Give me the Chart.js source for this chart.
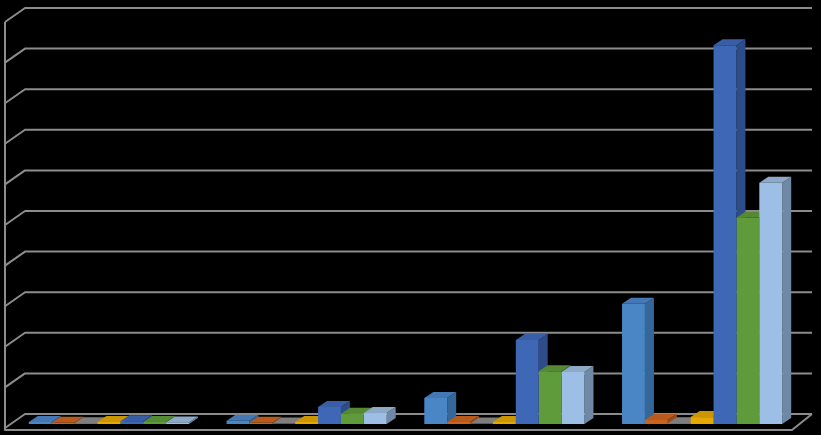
<!DOCTYPE html>
<html>
<head>
<meta charset="utf-8">
<script src="https://cdn.jsdelivr.net/npm/chart.js@4/dist/chart.umd.min.js"></script>
<style>
  html, body { margin: 0; padding: 0; background: #000; }
  #wrap { width: 821px; height: 435px; position: relative; }
</style>
</head>
<body>
<div id="wrap"><canvas id="chart"></canvas></div>
<script>
// chart data (no labels shown in the picture)
const categories = ["1", "2", "3", "4"];
const axis_max = 1000;
const axis_step = 100;

const series_1 = [5, 8, 64, 296];
const series_2 = [3, 3, 5, 10];
const series_3 = [2, 1, 1, 2];
const series_4 = [5, 5, 5, 17];
const series_5 = [7, 42, 207, 933];
const series_6 = [5, 25, 130, 508];
const series_7 = [4, 27, 128, 594];

// front / side / top colours for each series
const palette = [
  ["#4a86c6", "#35679a", "#4478b4"],
  ["#cc6420", "#9c4a16", "#b85a1c"],
  ["#8c8c8c", "#6a6a6a", "#7e7e7e"],
  ["#e6a800", "#b08000", "#cc9600"],
  ["#3e67b6", "#2c4d8a", "#3a5ea6"],
  ["#5f9b3a", "#46762a", "#548a34"],
  ["#9dbfe6", "#6f88a6", "#8ea8c8"],
];

// 3d look constants
const bar_dx = 9, bar_dy = 6;        // depth of a bar
const wall_dx = 12, wall_dy = 10;    // bar front plane -> back wall
const floor_dx = 20, floor_dy = 16;  // front edge -> back wall

const threeD = {
  id: "threeD",
  beforeDatasetsDraw(chart) {
    const ctx = chart.ctx;
    const y = chart.scales.y;
    const area = chart.chartArea;
    const back_left = area.left + wall_dx + 3;
    const front_left = back_left - floor_dx;
    const back_right = area.right + wall_dx - 1;
    ctx.save();
    ctx.strokeStyle = "#8c8c8c";
    ctx.lineWidth = 2;
    ctx.lineJoin = "round";
    // gridlines on the left and back walls
    let top_y = 0;
    for (let v = 0; v <= axis_max; v += axis_step) {
      const yb = y.getPixelForValue(v) - wall_dy;
      if (v === axis_max) top_y = yb;
      ctx.beginPath();
      ctx.moveTo(front_left, yb + floor_dy - 2);
      ctx.lineTo(back_left, yb);
      ctx.lineTo(back_right, yb);
      ctx.stroke();
    }
    // left wall edge and floor
    const yb0 = y.getPixelForValue(0) - wall_dy;
    ctx.beginPath();
    ctx.moveTo(front_left, top_y + floor_dy - 2);
    ctx.lineTo(front_left, yb0 + floor_dy);
    ctx.lineTo(back_right - floor_dx, yb0 + floor_dy);
    ctx.lineTo(back_right, yb0);
    ctx.stroke();

    // side and top faces, left to right so nearer bars cover farther ones
    const bars = [];
    chart.data.datasets.forEach((ds, di) => {
      chart.getDatasetMeta(di).data.forEach((el) => {
        bars.push({ el: el, di: di });
      });
    });
    bars.sort((a, b) => a.el.x - b.el.x);
    bars.forEach(({ el, di }) => {
      const left = el.x - el.width / 2;
      const right = el.x + el.width / 2;
      const top = el.y;
      const base = el.base;
      // side
      ctx.fillStyle = palette[di][1];
      ctx.beginPath();
      ctx.moveTo(right, base);
      ctx.lineTo(right, top);
      ctx.lineTo(right + bar_dx, top - bar_dy);
      ctx.lineTo(right + bar_dx, base - bar_dy);
      ctx.closePath();
      ctx.fill();
      // top
      ctx.fillStyle = palette[di][2];
      ctx.beginPath();
      ctx.moveTo(left, top);
      ctx.lineTo(right, top);
      ctx.lineTo(right + bar_dx, top - bar_dy);
      ctx.lineTo(left + bar_dx, top - bar_dy);
      ctx.closePath();
      ctx.fill();
    });
    ctx.restore();
  },
};

const all_series = [series_1, series_2, series_3, series_4, series_5, series_6, series_7];

const datasets = all_series.map((values, i) => ({
  label: "Series " + (i + 1),
  data: values,
  backgroundColor: palette[i][0],
  borderWidth: 0,
  barPercentage: 1.0,
  categoryPercentage: 0.81,
}));

new Chart(document.getElementById("chart"), {
  type: "bar",
  data: { labels: categories, datasets: datasets },
  options: {
    responsive: true,
    maintainAspectRatio: false,
    animation: false,
    devicePixelRatio: 1,
    layout: { padding: { left: 10, right: 20, top: 18, bottom: 11 } },
    plugins: { legend: { display: false }, tooltip: { enabled: false } },
    scales: {
      x: { display: false },
      y: { display: false, min: 0, max: axis_max },
    },
  },
  plugins: [threeD],
});
</script>
</body>
</html>
